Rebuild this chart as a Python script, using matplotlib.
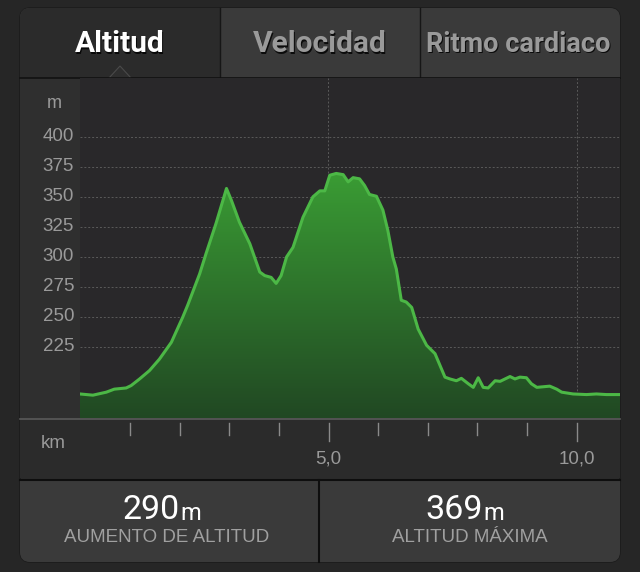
import numpy as np
import matplotlib
matplotlib.use('Agg')
import matplotlib.pyplot as plt
from matplotlib.patches import FancyBboxPatch, Rectangle, Polygon

plt.rcParams['font.family'] = ['Liberation Sans', 'DejaVu Sans']

# altitude profile (km, m)
km = [0.0, 0.26, 0.53, 0.69, 0.93, 1.03, 1.2, 1.4, 1.6, 1.84, 2.07, 2.17, 2.41, 2.54,
      2.74, 2.95, 3.05, 3.21, 3.42, 3.62, 3.72, 3.85, 3.95, 4.05, 4.16, 4.29, 4.49,
      4.69, 4.83, 4.93, 5.03, 5.16, 5.3, 5.4, 5.5, 5.63, 5.73, 5.83, 5.97, 6.1, 6.2,
      6.3, 6.37, 6.47, 6.57, 6.68, 6.81, 6.98, 7.15, 7.35, 7.45, 7.58, 7.68, 7.82,
      7.92, 8.02, 8.12, 8.22, 8.36, 8.46, 8.66, 8.76, 8.86, 8.99, 9.09, 9.2, 9.46,
      9.6, 9.7, 9.93, 10.2, 10.4, 10.6, 10.88]
alt = [186, 185, 187.5, 190, 191, 193, 198.5, 205.5, 215, 229, 250, 260, 286, 303,
       328, 357, 347, 329, 311, 287.5, 284.5, 283, 278, 284.5, 300, 308, 333,
       350, 355, 355, 368, 369.5, 368.5, 362.5, 366, 365, 359.5, 352, 350.5, 339, 322,
       300, 290, 264, 262.5, 258, 240, 226.5, 219.5, 200, 198.5, 197, 199, 194.5,
       191.5, 199.5, 191.5, 191, 197, 196.5, 200.5, 198.5, 200, 199.5, 194.5, 191.5, 192.5,
       190, 187.5, 186, 185.5, 186, 185.5, 185.5]

tabs = ['Altitud', 'Velocidad', 'Ritmo cardiaco']
y_ticks = [225, 250, 275, 300, 325, 350, 375, 400]
x_major = [5, 10]
x_labels = ['5,0', '10,0']
stats = ['290', '369']
stat_names = ['AUMENTO DE ALTITUD', 'ALTITUD MÁXIMA']

W, H = 640, 572
fig = plt.figure(figsize=(6.4, 5.72), dpi=100)
fig.patch.set_facecolor('#262626')

bg = fig.add_axes([0, 0, 1, 1])
bg.set_xlim(0, W)
bg.set_ylim(H, 0)
bg.axis('off')

# outer panel
bg.add_patch(FancyBboxPatch((20, 8), 600, 554, boxstyle='round,pad=0,rounding_size=10',
                            fc='#2c2c2c', ec='#1a1a1a', lw=1))
# tabs
bg.add_patch(FancyBboxPatch((20, 8), 600, 70, boxstyle='round,pad=0,rounding_size=10',
                            fc='#3a3a3a', ec='none'))
bg.add_patch(Rectangle((20, 30), 600, 48, fc='#3a3a3a', ec='none'))
bg.add_patch(FancyBboxPatch((20, 8), 200, 70, boxstyle='round,pad=0,rounding_size=10',
                            fc='#2b2b2b', ec='none'))
bg.add_patch(Rectangle((60, 8), 160, 70, fc='#2b2b2b', ec='none'))
bg.add_patch(Rectangle((20, 30), 200, 48, fc='#2b2b2b', ec='none'))
for xd in [220, 420]:
    bg.plot([xd, xd], [8, 77], color='#161616', lw=1)
bg.plot([20, 620], [77.5, 77.5], color='#111111', lw=1.2)
bg.add_patch(Polygon([[109, 78], [120, 66], [131, 78]], closed=True,
                     fc='#2e2e2e', ec='#4a4a4a', lw=0.8))
tab_colors = ['white', '#9a9a9a', '#9a9a9a']
tab_x = [120, 320, 518]
tab_size = [21.5, 21.5, 19.5]
for t, c, x, s in zip(tabs, tab_colors, tab_x, tab_size):
    bg.text(x + 1, 45.5, t, color='black', fontsize=s, fontweight='bold',
            family='Roboto', ha='center', va='center', alpha=0.8)
    bg.text(x, 44, t, color=c, fontsize=s, fontweight='bold', family='Roboto',
            ha='center', va='center')

# y label column
bg.add_patch(Rectangle((20, 78), 60, 340, fc='#2f2f2f', ec='none'))
bg.text(54, 103, 'm', color='#9a9a9a', fontsize=13, ha='center', va='center')

# x axis strip
bg.add_patch(Rectangle((20, 418), 600, 60, fc='#2b2b2b', ec='none'))
bg.plot([20, 620], [418.5, 418.5], color='#5a5a5a', lw=1.2)
bg.text(53, 443, 'km', color='#9a9a9a', fontsize=13.5, ha='center', va='center')

# bottom stats
bg.add_patch(FancyBboxPatch((20, 480), 600, 82, boxstyle='round,pad=0,rounding_size=10',
                            fc='#3a3a3a', ec='none'))
bg.add_patch(Rectangle((20, 480), 600, 20, fc='#3a3a3a', ec='none'))
bg.plot([20, 620], [479.5, 479.5], color='#0e0e0e', lw=1.5)
bg.plot([319, 319], [480, 562], color='#0e0e0e', lw=1.5)
for cx, v, name in zip([167, 470], stats, stat_names):
    bg.text(cx + 13, 510, v, color='white', fontsize=24.5, family='Roboto',
            ha='right', va='center')
    bg.text(cx + 13, 514, 'm', color='white', fontsize=17, family='Roboto',
            ha='left', va='center')
    bg.text(cx, 538, name, color='#a0a0a0', fontsize=13.5, ha='center', va='center')

# chart
ax = fig.add_axes([80 / W, 1 - 418 / H, 540 / W, (418 - 78) / H])
ax.set_facecolor('#29282a')
ymin, ymax = 166, 400 + (136.7 - 78) / 1.2
xmax = (620 - 80.6) / 49.6
for s in ax.spines.values():
    s.set_visible(False)
ax.set_xticks([])
ax.set_yticks([])

for yv in y_ticks:
    ax.axhline(yv, color='#5a5a5a', lw=0.7, ls=(0, (2, 2)), zorder=1)
    bg.text(74, 136.7 + (400 - yv) * 1.2, str(yv), color='#9a9a9a', fontsize=13.5,
            ha='right', va='center')
for xv in x_major:
    ax.axvline(xv, color='#5a5a5a', lw=0.7, ls=(0, (2, 2)), zorder=1)

poly = ax.fill_between(km, alt, ymin, color='none', zorder=2)
grad = np.linspace(1, 0, 256).reshape(-1, 1)
top_c = np.array([0x3a, 0x9c, 0x34]) / 255
bot_c = np.array([0x21, 0x48, 0x23]) / 255
img = top_c * grad[..., None] + bot_c * (1 - grad[..., None])
im = ax.imshow(img, extent=[0, xmax, ymin, max(alt)], aspect='auto', zorder=2,
               origin='upper')
im.set_clip_path(poly.get_paths()[0], transform=ax.transData)
ax.set_ylim(ymin, ymax)
ax.set_xlim(0, xmax)
ax.plot(km, alt, color='#4cb846', lw=2.2, zorder=3, solid_joinstyle='round')

# x ticks in strip
for k in range(1, 11):
    px = 80.6 + k * 49.6
    h = 18 if k in x_major else 12
    bg.plot([px, px], [423, 423 + h], color='#8a8a8a', lw=1)
for k, lab in zip(x_major, x_labels):
    bg.text(80.6 + k * 49.6, 459, lab, color='#9a9a9a', fontsize=13.5,
            ha='center', va='center')

fig.savefig('out.png', dpi=100, facecolor=fig.get_facecolor())
